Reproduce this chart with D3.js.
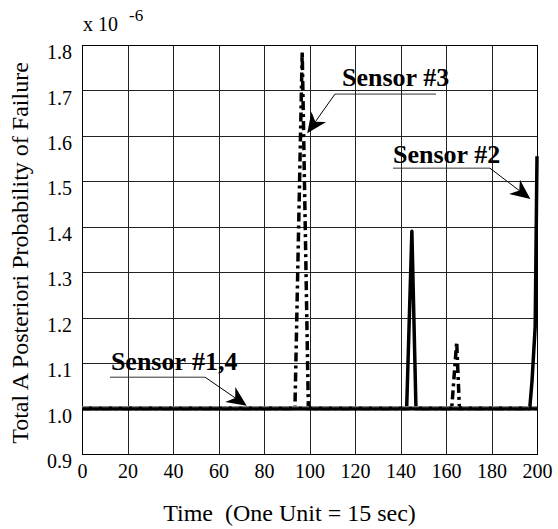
<!DOCTYPE html>
<html>
<head>
<meta charset="utf-8">
<script src="https://cdn.jsdelivr.net/npm/d3@7"></script>
<style>
body { margin: 0; background: #fff; }
</style>
</head>
<body>
<div id="chart"></div>
<script>
// ticks
const xTicks = [0, 20, 40, 60, 80, 100, 120, 140, 160, 180, 200]
const yTicks = [0.9, 1.0, 1.1, 1.2, 1.3, 1.4, 1.5, 1.6, 1.7, 1.8]

// sensors #1 and #4 sit on the 1.0 line
const sensor14Time = [0, 200]
const sensor1Value = [1.0, 1.0]
const sensor4Value = [1.004, 1.004]

// sensor #2 (solid)
const sensor2Time = [0, 142.7, 145.0, 146.8, 196.8, 197.8, 199.2, 200]
const sensor2Value = [1.0, 1.0, 1.39, 1.0, 1.0, 1.06, 1.18, 1.555]

// sensor #3 (dash-dot)
const sensor3Time = [0, 93.6, 96.8, 99.5, 162.5, 164.7, 165.9, 200]
const sensor3Value = [1.0, 1.0, 1.786, 1.0, 1.0, 1.147, 1.0, 1.0]

// labels with underline and arrow, in data units
const labelNames = ["Sensor #3", "Sensor #2", "Sensor #1,4"]
const labelTime = [114.3, 136.7, 12.7]
const labelValue = [1.710, 1.540, 1.085]
const underlineFrom = [111.2, 136.7, 12.3]
const underlineTo = [155.6, 179.3, 54.1]
const underlineValue = [1.692, 1.529, 1.069]
const arrowStart = [111.2, 179.3, 54.1]
const arrowTipTime = [99.0, 197.1, 72.4]
const arrowTipValue = [1.606, 1.461, 1.006]

const width = 558
const height = 529
const margin = {top: 45, right: 21, bottom: 75, left: 82}
const innerW = width - margin.left - margin.right
const innerH = height - margin.top - margin.bottom
const serif = "'Liberation Serif', 'Times New Roman', Times, 'DejaVu Serif', serif"

const svg = d3.select("div#chart").append("svg").attr("width", width).attr("height", height)
    .style("font-family", serif)
svg.append("rect").attr("width", width).attr("height", height).attr("fill", "#fff")
const elementGroup = svg.append("g").attr("transform", `translate(${margin.left}, ${margin.top})`)

const x = d3.scaleLinear().domain([0, 200]).range([0, innerW])
const y = d3.scaleLinear().domain([0.9, 1.8]).range([innerH, 0])

const xAxis = d3.axisBottom(x).tickValues(xTicks).tickSize(-innerH).tickPadding(10)
const yAxis = d3.axisLeft(y).tickValues(yTicks).tickSize(-innerW).tickPadding(10).tickFormat(d3.format(".1f"))

const xAxisGroup = elementGroup.append("g").attr("transform", `translate(0, ${innerH})`).call(xAxis)
const yAxisGroup = elementGroup.append("g").call(yAxis)

;[xAxisGroup, yAxisGroup].forEach(g => {
    g.select(".domain").remove()
    g.attr("font-family", serif).attr("font-size", 20)
    g.selectAll("text").style("font-family", serif).attr("fill", "#000")
    g.selectAll("line").attr("stroke", "#222").attr("shape-rendering", "crispEdges")
})
yAxisGroup.selectAll("text").attr("dy", "0.68em")

elementGroup.append("rect").attr("width", innerW).attr("height", innerH)
    .attr("fill", "none").attr("stroke", "#000").attr("shape-rendering", "crispEdges")

const line = d3.line().x(d => x(d[0])).y(d => y(d[1]))

elementGroup.append("path").datum(d3.zip(sensor3Time, sensor3Value))
    .attr("d", line).attr("fill", "none").attr("stroke", "#000")
    .attr("stroke-width", 3.5).attr("stroke-dasharray", "9,4,3,4")

elementGroup.append("path").datum(d3.zip(sensor2Time, sensor2Value))
    .attr("d", line).attr("fill", "none").attr("stroke", "#000")
    .attr("stroke-width", 3.5).attr("stroke-linejoin", "round")

elementGroup.append("path").datum(d3.zip(sensor14Time, sensor1Value))
    .attr("d", line).attr("fill", "none").attr("stroke", "#000").attr("stroke-width", 4)

elementGroup.append("path").datum(d3.zip(sensor14Time, sensor4Value))
    .attr("d", line).attr("fill", "none").attr("stroke", "#999")
    .attr("stroke-width", 1.2).attr("stroke-dasharray", "7,3")

// labels
labelNames.forEach((name, i) => {
    elementGroup.append("text").text(name)
        .attr("x", x(labelTime[i])).attr("y", y(labelValue[i]))
        .attr("font-size", 26).attr("font-weight", "bold")
        .style("font-family", serif)

    elementGroup.append("line")
        .attr("x1", x(underlineFrom[i])).attr("x2", x(underlineTo[i]))
        .attr("y1", y(underlineValue[i])).attr("y2", y(underlineValue[i]))
        .attr("stroke", "#333").attr("stroke-width", 1)

    const x0 = x(arrowStart[i]), y0 = y(underlineValue[i])
    const x1 = x(arrowTipTime[i]), y1 = y(arrowTipValue[i])
    const len = Math.hypot(x1 - x0, y1 - y0)
    const ux = (x1 - x0) / len, uy = (y1 - y0) / len
    const nx = -uy, ny = ux
    const headLen = 20, headW = 9, notch = 14

    elementGroup.append("line")
        .attr("x1", x0).attr("y1", y0)
        .attr("x2", x1 - ux * notch).attr("y2", y1 - uy * notch)
        .attr("stroke", "#000").attr("stroke-width", 1)

    elementGroup.append("path")
        .attr("d", `M${x1},${y1}` +
            `L${x1 - ux * headLen + nx * headW},${y1 - uy * headLen + ny * headW}` +
            `L${x1 - ux * notch},${y1 - uy * notch}` +
            `L${x1 - ux * headLen - nx * headW},${y1 - uy * headLen - ny * headW}Z`)
        .attr("fill", "#000")
})

// exponent
svg.append("text").attr("x", 83).attr("y", 31).attr("font-size", 20)
    .style("font-family", serif).text("x 10")
svg.append("text").attr("x", 129).attr("y", 21).attr("font-size", 17)
    .style("font-family", serif).text("-6")

// axis titles
svg.append("text").text("Time  (One Unit = 15 sec)")
    .attr("x", margin.left + innerW / 2 - 20).attr("y", 521)
    .attr("text-anchor", "middle").attr("font-size", 24)
    .style("font-family", serif).style("white-space", "pre")

svg.append("text").text("Total A Posteriori Probability of Failure")
    .attr("transform", `translate(28, 253) rotate(-90)`)
    .attr("text-anchor", "middle").attr("font-size", 24)
    .style("font-family", serif)
</script>
</body>
</html>
